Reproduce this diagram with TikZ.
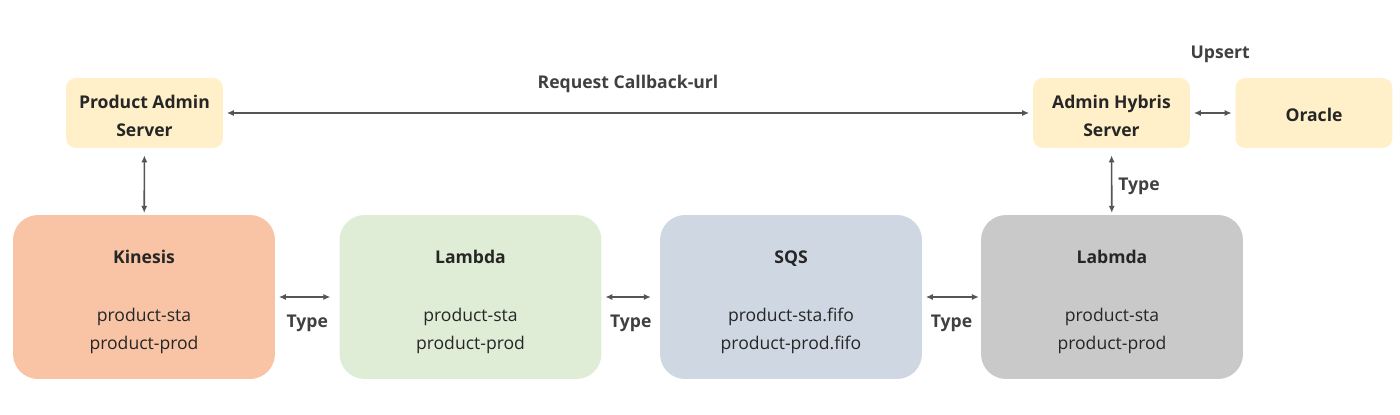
\documentclass[tikz,border=0pt]{standalone}
\usepackage{fontspec}
\setmainfont{Open Sans}
\usetikzlibrary{arrows.meta}
\definecolor{srvyellow}{HTML}{FFF0C9}
\definecolor{kinfill}{HTML}{F8C4A5}
\definecolor{lamfill}{HTML}{DFEDD6}
\definecolor{sqsfill}{HTML}{CFD8E2}
\definecolor{labfill}{HTML}{C9C9C9}
\definecolor{arrgray}{HTML}{555555}
\definecolor{lblgray}{HTML}{404040}
\newcommand{\srvgap}{\rule{0pt}{11pt}}
\newcommand{\svcgap}{\rule{0pt}{13.5pt}}
\tikzset{
  server/.style={fill=srvyellow,rounded corners=0.2cm,minimum width=3.14cm,minimum height=1.4cm,
    align=center,font=\fontsize{10}{16.4}\selectfont\bfseries,text=black!85},
  service/.style={rounded corners=0.5cm,minimum width=5.24cm,minimum height=3.28cm,
    align=center,font=\fontsize{10}{16.4}\selectfont,text=black!85},
  link/.style={{Latex[length=4pt,width=3.5pt]}-{Latex[length=4pt,width=3.5pt]},draw=arrgray,line width=0.9pt},
  lbl/.style={font=\fontsize{10}{12}\selectfont\bfseries,text=lblgray}
}
\begin{document}
\begin{tikzpicture}[x=0.02cm,y=-0.02cm]
\useasboundingbox (0,0) rectangle (1400,415);
% servers
\node[server] (pas) at (144.5,113) {\srvgap Product Admin\\Server};
\node[server] (ahs) at (1111.5,113) {\srvgap Admin Hybris\\Server};
\node[server,text height=10pt,text depth=0.4pt] (ora) at (1314,113) {Oracle};
% services
\node[service,fill=kinfill] (kin) at (144,297) {\svcgap\textbf{Kinesis}\\[16.4pt]product-sta\\product-prod};
\node[service,fill=lamfill] (lam) at (470.5,297) {\svcgap\textbf{Lambda}\\[16.4pt]product-sta\\product-prod};
\node[service,fill=sqsfill] (sqs) at (791,297) {\svcgap\textbf{SQS}\\[16.4pt]product-sta.fifo\\product-prod.fifo};
\node[service,fill=labfill] (lab) at (1112,297) {\svcgap\textbf{Labmda}\\[16.4pt]product-sta\\product-prod};
% links
\draw[link,shorten <=2pt,shorten >=2pt] (pas) -- (ahs) node[lbl,midway,above=0.28cm] (req) {Request Callback-url};
\draw[link,shorten <=2pt,shorten >=2pt] (ahs) -- (ora) node[lbl,midway,above=0.87cm,xshift=0.15cm] (ups) {Upsert};
\draw[link,shorten <=4pt,shorten >=1pt] (pas) -- (kin);
\draw[link,shorten <=4pt,shorten >=1pt] (ahs) -- (lab) node[lbl,midway,right=0cm,yshift=-0.1cm] (t4) {Type};
\draw[link,shorten <=2pt,shorten >=5pt] (kin) -- (lam) node[lbl,midway,below=0.22cm] (t1) {Type};
\draw[link,shorten <=2pt,shorten >=5pt] (lam) -- (sqs) node[lbl,midway,below=0.22cm] (t2) {Type};
\draw[link,shorten <=2pt,shorten >=1pt] (sqs) -- (lab) node[lbl,midway,below=0.22cm] (t3) {Type};
\end{tikzpicture}
\end{document}
